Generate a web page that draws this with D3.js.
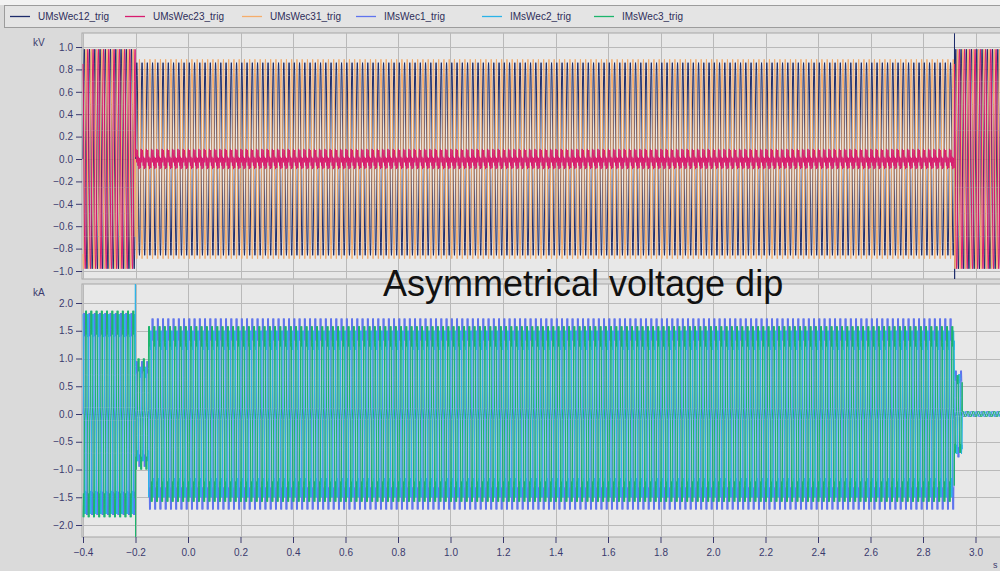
<!DOCTYPE html>
<html><head><meta charset="utf-8">
<script src="https://cdn.jsdelivr.net/npm/d3@7"></script>
<style>
html,body{margin:0;padding:0;background:#dadada;}
svg{display:block;font-family:"Liberation Sans",Arial,sans-serif;}
</style></head><body>
<svg id="c" width="1000" height="571"></svg>
<script>
// ---------------- data ----------------
const seriesNames = ["UMsWec12_trig","UMsWec23_trig","UMsWec31_trig","IMsWec1_trig","IMsWec2_trig","IMsWec3_trig"];
const xTicks = [-0.4,-0.2,0.0,0.2,0.4,0.6,0.8,1.0,1.2,1.4,1.6,1.8,2.0,2.2,2.4,2.6,2.8,3.0];
const voltTicks = [-1.0,-0.8,-0.6,-0.4,-0.2,0.0,0.2,0.4,0.6,0.8,1.0];
const currTicks = [-2.0,-1.5,-1.0,-0.5,0.0,0.5,1.0,1.5,2.0];
const timeRange = [-0.4, 3.1];
const fundamentalHz = 50;
const samplesPerCycle = 24;
// one recorded cycle, normalised (24 samples)
const sineCycle = [0,0.259,0.5,0.707,0.866,0.966,1,0.966,0.866,0.707,0.5,0.259,0,-0.259,-0.5,-0.707,-0.866,-0.966,-1,-0.966,-0.866,-0.707,-0.5,-0.259];
const currentCycle = [0,0.064,0.385,0.816,1,0.88,0.77,0.88,1,0.816,0.385,0.064,0,-0.064,-0.385,-0.816,-1,-0.88,-0.77,-0.88,-1,-0.816,-0.385,-0.064];
// UMsWec23 during the dip (kV), one cycle
const u23DipCycle = [0.02,0.07,0.09,0.06,0.0,-0.03,0.01,0.06,0.08,0.04,-0.02,-0.06,-0.03,0.02,0.0,-0.05,-0.09,-0.07,-0.02,0.01,-0.02,-0.06,-0.08,-0.04];
// voltage segments: pre-fault, dip, recovery
const voltageSegments = [-0.4, -0.2, 2.92];
const u12Amp = [0.98, 0.86, 0.98];
const u23Amp = [0.98, 1.0, 0.98];
const u31Amp = [0.98, 0.89, 0.98];
const u12Phase = [0, 0, 0];
const u23Phase = [8, 0, 8];
const u31Phase = [16, 12, 16];
const u23Shape = ["sine", "dip", "sine"];
// current segments: pre-fault, transient, dip, decay, off
const currentSegments = [-0.4, -0.2, -0.15, 2.92, 2.95];
const i1Amp = [1.82, 0.95, 1.72, 0.78, 0.05];
const i2Amp = [1.80, 0.85, 1.50, 0.72, 0.04];
const i3Amp = [1.86, 1.00, 1.58, 0.70, 0.05];
const i1Phase = [0, 0, 0, 0, 0];
const i2Phase = [8, 8, 8, 8, 8];
const i3Phase = [16, 16, 16, 16, 16];
// isolated spikes: [time s, value]
const u12Spikes = [[2.9200, 1.12], [2.9205, -1.14]];
const i2Spikes = [[-0.2005, 2.38]];
const i3Spikes = [[-0.1998, -2.25]];

// ---------------- layout ----------------
const svg = d3.select("#c");
const W = 1000, H = 571;
const plotL = 82, plotR = 1000;
const topP = {y0: 33, y1: 279};
const botP = {y0: 284, y1: 537};

const x = d3.scaleLinear().domain([-0.4, 3.0]).range([83, 975.5]);
const yV = d3.scaleLinear().domain([-1, 1]).range([271, 47]);
const yI = d3.scaleLinear().domain([-2, 2]).range([525, 303]);

const colors = ["#1d2c6b", "#d81b6f", "#f5ad6b", "#5f74ee", "#2bb3e8", "#1cb56c"];
const axisCol = "#3a3a6e";

svg.append("rect").attr("width", W).attr("height", H).attr("fill", "#dadada");
svg.append("rect").attr("x", 0).attr("y", 0).attr("width", W).attr("height", 5).attr("fill", "#f2f2f2");

// legend
svg.append("rect").attr("x", 4.5).attr("y", 5.5).attr("width", 1000).attr("height", 22)
  .attr("fill", "#e4e4e4").attr("stroke", "#9c9c9c");
const legendTextX = [38, 153, 270, 384, 510, 622];
seriesNames.forEach((n, i) => {
  const tx = legendTextX[i];
  svg.append("line").attr("x1", tx - 28).attr("x2", tx - 8).attr("y1", 16.5).attr("y2", 16.5)
    .attr("stroke", colors[i]).attr("stroke-width", 1.3);
  svg.append("text").attr("x", tx).attr("y", 20).attr("font-size", 10).attr("fill", "#2e2e5a").text(n);
});

// panels
function panel(p, yScale, ticks, fmt, unit, unitY) {
  svg.append("rect").attr("x", plotL).attr("y", p.y0).attr("width", plotR - plotL + 5).attr("height", p.y1 - p.y0)
    .attr("fill", "#e8e8e8").attr("stroke", "#a6a6a6");
  const g = svg.append("g");
  g.selectAll("line.h").data(ticks).join("line")
    .attr("x1", plotL).attr("x2", plotR).attr("y1", d => Math.round(yScale(d)) + 0.5).attr("y2", d => Math.round(yScale(d)) + 0.5)
    .attr("stroke", "#b9b9b9").attr("stroke-width", 1);
  g.selectAll("line.v").data(xTicks).join("line")
    .attr("x1", d => Math.round(x(d)) + 0.5).attr("x2", d => Math.round(x(d)) + 0.5).attr("y1", p.y0).attr("y2", p.y1)
    .attr("stroke", "#b9b9b9").attr("stroke-width", 1);
  const ax = svg.append("g").attr("transform", `translate(${plotL},0)`)
    .call(d3.axisLeft(yScale).tickValues(ticks).tickFormat(fmt).tickSize(6).tickPadding(3));
  ax.select(".domain").remove();
  ax.selectAll("line").attr("stroke", axisCol);
  ax.selectAll("text").attr("fill", axisCol).attr("font-size", 10).attr("font-family", "Liberation Sans, Arial, sans-serif");
  svg.append("text").attr("x", 33).attr("y", unitY).attr("font-size", 10).attr("fill", axisCol).text(unit);
}
panel(topP, yV, voltTicks, d3.format(".1f"), "kV", 46);
panel(botP, yI, currTicks, d3.format(".1f"), "kA", 296);

// x axis
const xa = svg.append("g").attr("transform", `translate(0,${botP.y1})`)
  .call(d3.axisBottom(x).tickValues(xTicks).tickFormat(d3.format(".1f")).tickSize(6).tickPadding(6));
xa.select(".domain").remove();
xa.selectAll("line").attr("stroke", axisCol);
xa.selectAll("text").attr("fill", axisCol).attr("font-size", 10).attr("font-family", "Liberation Sans, Arial, sans-serif");
svg.append("text").attr("x", 993).attr("y", 568).attr("font-size", 9).attr("fill", axisCol).text("s");

// clip paths
const defs = svg.append("defs");
defs.append("clipPath").attr("id", "clipV").append("rect").attr("x", plotL).attr("y", topP.y0).attr("width", plotR - plotL).attr("height", topP.y1 - topP.y0);
defs.append("clipPath").attr("id", "clipI").append("rect").attr("x", plotL).attr("y", botP.y0).attr("width", plotR - plotL).attr("height", botP.y1 - botP.y0);

// build sampled series from recorded cycle shapes
const dt = 1 / fundamentalHz / samplesPerCycle;
function build(segs, amps, phases, shapes, cycleDefault, spikes) {
  const pts = [];
  const n = Math.round((timeRange[1] - timeRange[0]) / dt);
  for (let k = 0; k <= n; k++) {
    const t = timeRange[0] + k * dt;
    let s = d3.bisectRight(segs, t + 1e-9) - 1;
    s = Math.max(0, Math.min(amps.length - 1, s));
    const shape = shapes && shapes[s] === "dip" ? u23DipCycle : cycleDefault;
    const v = amps[s] * shape[(k + phases[s]) % samplesPerCycle];
    pts.push([t, v]);
  }
  (spikes || []).forEach(sp => pts.push(sp));
  pts.sort((a, b) => a[0] - b[0]);
  return pts;
}
const volt = [
  build(voltageSegments, u12Amp, u12Phase, null, sineCycle, u12Spikes),
  build(voltageSegments, u23Amp, u23Phase, u23Shape, sineCycle, []),
  build(voltageSegments, u31Amp, u31Phase, null, sineCycle, [])
];
const curr = [
  build(currentSegments, i1Amp, i1Phase, null, currentCycle, []),
  build(currentSegments, i2Amp, i2Phase, null, currentCycle, i2Spikes),
  build(currentSegments, i3Amp, i3Phase, null, currentCycle, i3Spikes)
];

const lineV = d3.line().x(d => x(d[0])).y(d => yV(d[1]));
const lineI = d3.line().x(d => x(d[0])).y(d => yI(d[1]));
const gV = svg.append("g").attr("clip-path", "url(#clipV)");
[0, 2, 1].forEach(i => {
  gV.append("path").attr("d", lineV(volt[i])).attr("fill", "none").attr("stroke", colors[i]).attr("stroke-width", 1);
});
const gI = svg.append("g").attr("clip-path", "url(#clipI)");
[0, 1, 2].forEach(i => {
  gI.append("path").attr("d", lineI(curr[i])).attr("fill", "none").attr("stroke", colors[3 + i]).attr("stroke-width", 1);
});

// annotation
svg.append("text").attr("x", 383).attr("y", 296).attr("font-size", 36).attr("fill", "#111").text("Asymmetrical voltage dip");
</script>
</body></html>
